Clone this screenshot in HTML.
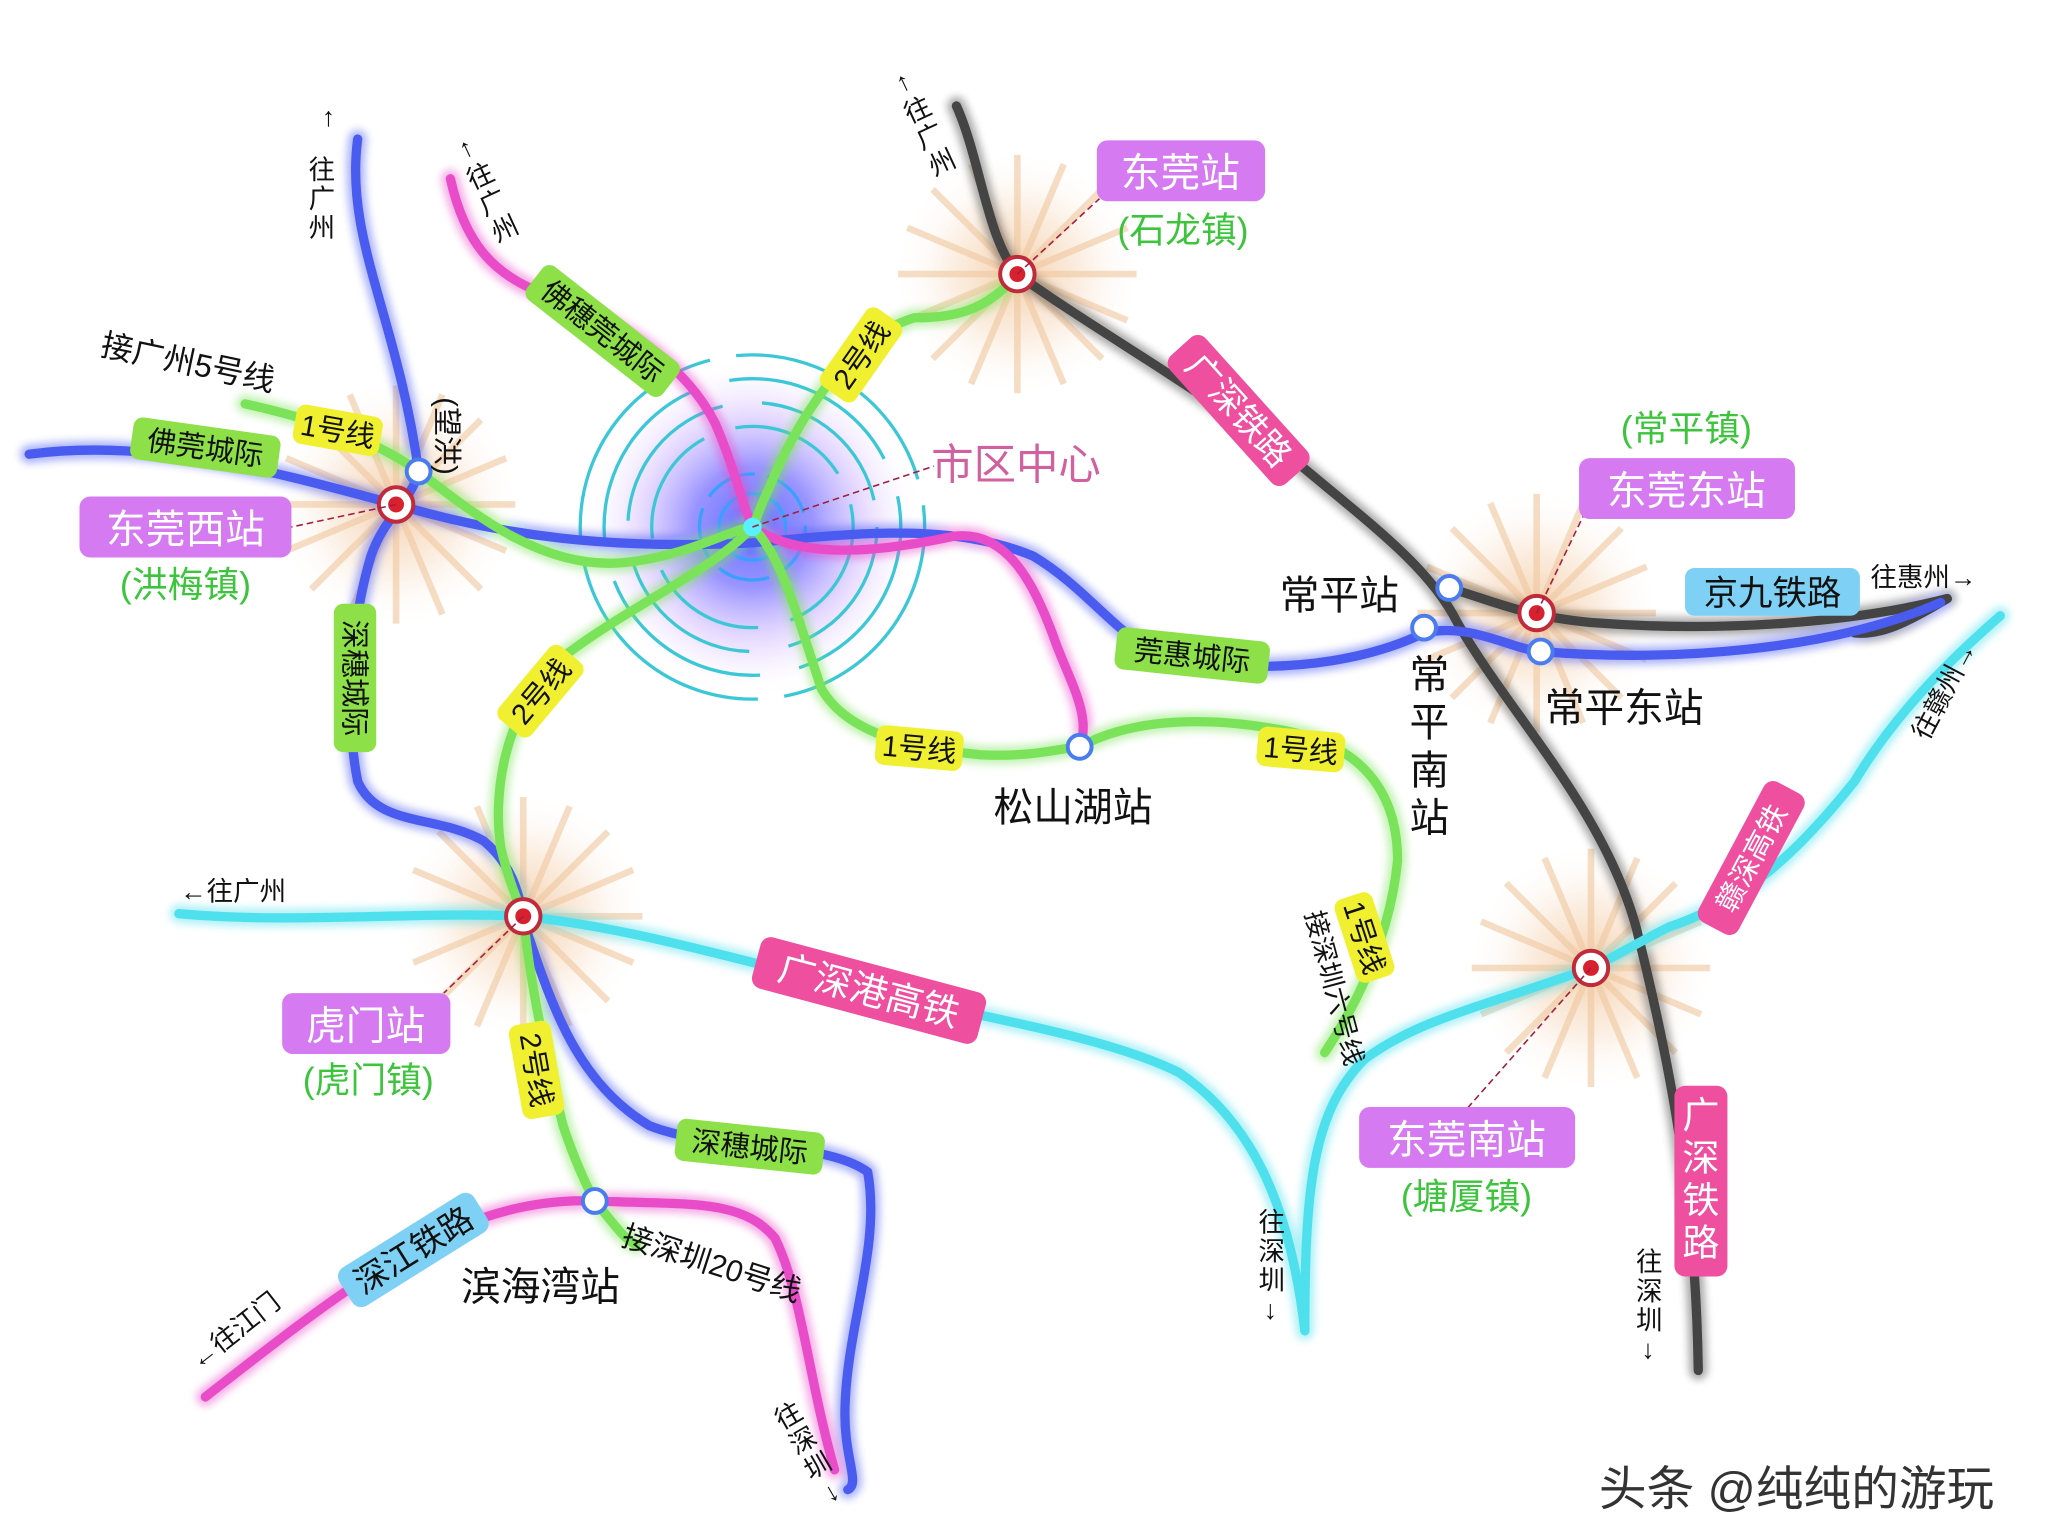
<!DOCTYPE html>
<html><head><meta charset="utf-8"><style>
html,body{margin:0;padding:0;background:#fff;width:2048px;height:1536px;overflow:hidden}
svg{display:block}
text{font-family:"Liberation Sans","Noto Sans CJK SC",sans-serif}
</style></head><body>
<svg width="2048" height="1536" viewBox="0 0 1546 1160" preserveAspectRatio="none" xmlns="http://www.w3.org/2000/svg">
<defs>
<radialGradient id="burst" cx="50%" cy="50%" r="50%">
<stop offset="0" stop-color="#f3c9a0" stop-opacity="0.9"/>
<stop offset="0.5" stop-color="#f7dcc2" stop-opacity="0.5"/>
<stop offset="1" stop-color="#fff" stop-opacity="0"/>
</radialGradient>
<radialGradient id="core" cx="50%" cy="50%" r="50%">
<stop offset="0" stop-color="#3a4cff"/>
<stop offset="0.35" stop-color="#6a62ff" stop-opacity="0.85"/>
<stop offset="0.7" stop-color="#c9a8ff" stop-opacity="0.4"/>
<stop offset="1" stop-color="#fff" stop-opacity="0"/>
</radialGradient>
<filter id="glow" x="-10%" y="-10%" width="120%" height="120%"><feGaussianBlur stdDeviation="3"/></filter>
<g id="rays" stroke="#f0c8a0" stroke-width="5" opacity="0.6">
<path d="M0,-90V90M-90,0H90M-64,-64L64,64M-64,64L64,-64M-35,-83L35,83M35,-83L-35,83M-83,-35L83,35M-83,35L83,-35"/>
</g>
<path id="g1" d="M722,80 C740,120 745,180 768,207 C820,245 900,290 980,350 C1040,400 1080,430 1100,470 C1140,540 1210,610 1235,700 C1260,800 1280,900 1282,1035"/>
<path id="g2" d="M1094,444 C1130,455 1150,465 1200,470 C1300,478 1400,470 1470,452 C1440,470 1420,480 1400,478"/>
<path id="b1" d="M22,343 C120,330 220,360 299,381 C380,405 460,415 568,410 C650,402 720,395 780,420 C830,450 850,495 900,500 C980,510 1040,495 1075,478 C1110,470 1140,490 1163,492 C1260,500 1380,492 1465,455"/>
<path id="b2" d="M270,105 C260,180 300,240 316,356 C310,380 290,390 280,420 C265,470 260,540 270,590 C285,625 330,615 365,635 C395,660 392,690 400,710 C420,770 440,820 490,850 C540,870 620,860 655,885 C665,940 640,1000 638,1060 C636,1100 650,1120 640,1125"/>
<path id="m1" d="M340,135 C350,180 370,210 420,225 C480,250 520,280 540,320 C555,355 560,380 568,398 C600,420 650,420 720,405 C760,400 780,440 795,480 C805,510 825,540 815,564"/>
<path id="m2" d="M155,1055 C200,1020 250,980 300,950 C350,920 400,905 449,907 C520,910 560,905 585,935 C605,975 610,1040 630,1110"/>
<path id="e1" d="M768,207 C745,235 720,240 690,240 C640,255 600,320 580,370 C570,390 570,398 568,398 C540,430 470,460 420,500 C380,540 372,600 378,640 C385,670 395,690 395,692 C400,740 410,790 425,850 C435,880 445,900 449,907 C460,920 470,935 480,940"/>
<path id="e2" d="M185,305 C230,315 280,330 316,356 C360,390 410,430 470,425 C520,420 550,400 568,398 C590,420 600,460 620,520 C640,555 690,565 740,570 C780,572 800,565 815,564 C850,545 900,540 960,550 C1030,560 1055,600 1055,650 C1050,700 1030,750 1000,795"/>
<path id="c1" d="M135,690 C220,698 320,688 395,692 C470,700 540,720 620,740 C720,765 830,780 890,810 C950,850 975,920 985,1005"/>
<path id="c2" d="M1510,465 C1470,500 1430,540 1400,590 C1360,640 1320,680 1260,700 C1230,715 1215,725 1201,731 C1120,760 1070,770 1030,800 C990,840 985,900 985,1005"/>
</defs>
<rect width="1546" height="1160" fill="#fff"/>

<!-- bursts -->
<g>
<circle cx="768" cy="207" r="95" fill="url(#burst)"/><use href="#rays" transform="translate(768,207)"/>
<circle cx="299" cy="381" r="95" fill="url(#burst)"/><use href="#rays" transform="translate(299,381)"/>
<circle cx="395" cy="692" r="95" fill="url(#burst)"/><use href="#rays" transform="translate(395,692)"/>
<circle cx="1160" cy="463" r="95" fill="url(#burst)"/><use href="#rays" transform="translate(1160,463)"/>
<circle cx="1201" cy="731" r="95" fill="url(#burst)"/><use href="#rays" transform="translate(1201,731)"/>
</g>

<!-- center -->
<circle cx="568" cy="398" r="130" fill="url(#core)" opacity="0.8"/>
<g fill="none" stroke="#3cc7d6" stroke-width="2.5">
<circle cx="568" cy="398" r="130" stroke-dasharray="180 20"/>
<circle cx="568" cy="398" r="112" stroke-dasharray="140 30"/>
<circle cx="568" cy="398" r="94" stroke-dasharray="120 30"/>
<circle cx="568" cy="398" r="76" stroke-dasharray="90 25"/>
<circle cx="568" cy="398" r="40" stroke="#39a0ff" stroke-dasharray="40 10"/>
<circle cx="568" cy="398" r="25" stroke="#39a0ff"/>
</g>

<!-- lines: halos -->
<g fill="none" stroke-linecap="round" stroke-linejoin="round" stroke-width="14" filter="url(#glow)" opacity="0.45">
<use href="#g1" stroke="#444"/><use href="#g2" stroke="#444"/>
<use href="#b1" stroke="#4a5cf0"/><use href="#b2" stroke="#4a5cf0"/>
<use href="#m1" stroke="#e94cc8"/><use href="#m2" stroke="#e94cc8"/>
<use href="#e1" stroke="#7be35a"/><use href="#e2" stroke="#7be35a"/>
<use href="#c1" stroke="#4fe0ee"/><use href="#c2" stroke="#4fe0ee"/>
</g>
<g fill="none" stroke-linecap="round" stroke-linejoin="round" stroke-width="7">
<use href="#g1" stroke="#444"/><use href="#g2" stroke="#444"/>
<use href="#b1" stroke="#4a5cf0"/><use href="#b2" stroke="#4a5cf0"/>
<use href="#m1" stroke="#e94cc8"/><use href="#m2" stroke="#e94cc8"/>
<use href="#e1" stroke="#7be35a"/><use href="#e2" stroke="#7be35a"/>
<use href="#c1" stroke="#4fe0ee"/><use href="#c2" stroke="#4fe0ee"/>
</g>

<!-- station markers -->
<g>
<g fill="#fff" stroke="#c02a3a" stroke-width="3">
<circle cx="768" cy="207" r="13"/><circle cx="299" cy="381" r="13"/><circle cx="395" cy="692" r="13"/><circle cx="1160" cy="463" r="13"/><circle cx="1201" cy="731" r="13"/>
</g>
<g fill="#d8202e"><circle cx="768" cy="207" r="6"/><circle cx="299" cy="381" r="6"/><circle cx="395" cy="692" r="6"/><circle cx="1160" cy="463" r="6"/><circle cx="1201" cy="731" r="6"/></g>
<g fill="#fff" stroke="#4a7cf0" stroke-width="3">
<circle cx="316" cy="356" r="9"/><circle cx="1094" cy="444" r="9"/><circle cx="1075" cy="474" r="9"/><circle cx="1163" cy="492" r="9"/><circle cx="815" cy="564" r="9"/><circle cx="449" cy="907" r="9"/>
</g>
<circle cx="568" cy="398" r="7" fill="#5af0ff"/>
</g>

<!-- dashed leaders -->
<g stroke="#a02040" stroke-width="1.2" stroke-dasharray="5 3" fill="none">
<path d="M768,207 L830,150"/><path d="M299,381 L220,398"/><path d="M395,692 L335,750"/><path d="M1160,463 L1195,390"/><path d="M1201,731 L1105,840"/><path d="M568,398 L705,352"/>
</g>

<!-- station boxes -->
<g font-size="30">
<rect x="828" y="106" width="127" height="46" rx="8" fill="#d57af0"/><text x="891" y="141" text-anchor="middle" fill="#fff">东莞站</text>
<text x="893" y="183" text-anchor="middle" fill="#3cc43c" font-size="27">(石龙镇)</text>
<rect x="60" y="375" width="160" height="46" rx="8" fill="#d57af0"/><text x="140" y="410" text-anchor="middle" fill="#fff">东莞西站</text>
<text x="140" y="451" text-anchor="middle" fill="#3cc43c" font-size="27">(洪梅镇)</text>
<rect x="213" y="750" width="127" height="46" rx="8" fill="#d57af0"/><text x="276" y="785" text-anchor="middle" fill="#fff">虎门站</text>
<text x="278" y="825" text-anchor="middle" fill="#3cc43c" font-size="27">(虎门镇)</text>
<rect x="1192" y="346" width="163" height="46" rx="8" fill="#d57af0"/><text x="1273" y="381" text-anchor="middle" fill="#fff">东莞东站</text>
<text x="1273" y="333" text-anchor="middle" fill="#3cc43c" font-size="27">(常平镇)</text>
<rect x="1026" y="836" width="163" height="46" rx="8" fill="#d57af0"/><text x="1107" y="871" text-anchor="middle" fill="#fff">东莞南站</text>
<text x="1107" y="913" text-anchor="middle" fill="#3cc43c" font-size="27">(塘厦镇)</text>
<text x="703" y="362" fill="#d0609e" font-size="32">市区中心</text>
</g>

<!-- station names -->
<g font-size="30" fill="#111">
<text x="966" y="460">常平站</text>
<text x="1166" y="545">常平东站</text>
<text x="750" y="620">松山湖站</text>
<text x="348" y="982">滨海湾站</text>
<text x="1079" y="520" text-anchor="middle">常</text>
<text x="1079" y="556" text-anchor="middle">平</text>
<text x="1079" y="592" text-anchor="middle">南</text>
<text x="1079" y="628" text-anchor="middle">站</text>
</g>

<!-- line labels -->
<g font-size="22" fill="#111">
<g transform="translate(935,310) rotate(48)"><rect x="-65" y="-18" width="130" height="36" rx="8" fill="#ef4f9f"/><text x="0" y="9" text-anchor="middle" fill="#fff" font-size="26">广深铁路</text></g>
<g transform="translate(455,250) rotate(38)"><rect x="-65" y="-16" width="130" height="32" rx="7" fill="#8de048"/><text x="0" y="8" text-anchor="middle">佛穗莞城际</text></g>
<g transform="translate(650,268) rotate(-55)"><rect x="-36" y="-16" width="72" height="32" rx="7" fill="#f0f030"/><text x="0" y="8" text-anchor="middle">2号线</text></g>
<g transform="translate(155,338) rotate(8)"><rect x="-56" y="-16" width="112" height="32" rx="7" fill="#8de048"/><text x="0" y="8" text-anchor="middle">佛莞城际</text></g>
<g transform="translate(255,325) rotate(10)"><rect x="-33" y="-15" width="66" height="30" rx="7" fill="#f0f030"/><text x="0" y="8" text-anchor="middle">1号线</text></g>
<g transform="translate(268,512) rotate(90)"><rect x="-56" y="-16" width="112" height="32" rx="7" fill="#8de048"/><text x="0" y="8" text-anchor="middle">深穗城际</text></g>
<g transform="translate(408,522) rotate(-50)"><rect x="-36" y="-16" width="72" height="32" rx="7" fill="#f0f030"/><text x="0" y="8" text-anchor="middle">2号线</text></g>
<g transform="translate(900,495) rotate(6)"><rect x="-58" y="-16" width="116" height="32" rx="7" fill="#8de048"/><text x="0" y="8" text-anchor="middle">莞惠城际</text></g>
<g transform="translate(694,565) rotate(5)"><rect x="-33" y="-15" width="66" height="30" rx="7" fill="#f0f030"/><text x="0" y="8" text-anchor="middle">1号线</text></g>
<g transform="translate(982,566) rotate(5)"><rect x="-33" y="-15" width="66" height="30" rx="7" fill="#f0f030"/><text x="0" y="8" text-anchor="middle">1号线</text></g>
<g transform="translate(1030,708) rotate(72)"><rect x="-33" y="-15" width="66" height="30" rx="7" fill="#f0f030"/><text x="0" y="8" text-anchor="middle">1号线</text></g>
<g transform="translate(1338,447)"><rect x="-66" y="-18" width="132" height="36" rx="7" fill="#7fd0f5"/><text x="0" y="10" text-anchor="middle" font-size="26">京九铁路</text></g>
<g transform="translate(1322,648) rotate(-62)"><rect x="-60" y="-17" width="120" height="34" rx="8" fill="#ef4f9f"/><text x="0" y="8" text-anchor="middle" fill="#fff">赣深高铁</text></g>
<g transform="translate(656,748) rotate(15)"><rect x="-88" y="-20" width="176" height="40" rx="8" fill="#ef4f9f"/><text x="0" y="10" text-anchor="middle" fill="#fff" font-size="28">广深港高铁</text></g>
<g transform="translate(405,808) rotate(80)"><rect x="-36" y="-16" width="72" height="32" rx="7" fill="#f0f030"/><text x="0" y="8" text-anchor="middle">2号线</text></g>
<g transform="translate(566,866) rotate(6)"><rect x="-56" y="-16" width="112" height="32" rx="7" fill="#8de048"/><text x="0" y="8" text-anchor="middle">深穗城际</text></g>
<g transform="translate(312,944) rotate(-32)"><rect x="-60" y="-17" width="120" height="34" rx="8" fill="#7fd0f5"/><text x="0" y="9" text-anchor="middle" font-size="25">深江铁路</text></g>
<g transform="translate(1284,892) rotate(90)"><rect x="-72" y="-20" width="144" height="40" rx="8" fill="#ef4f9f"/><g transform="rotate(-90)" fill="#fff" font-size="28" text-anchor="middle"><text x="0" y="-40">广</text><text x="0" y="-8">深</text><text x="0" y="24">铁</text><text x="0" y="56">路</text></g></g>
</g>

<!-- small direction text -->
<g font-size="20" fill="#111">
<text x="75" y="268" transform="rotate(12 75 268)" font-size="24">接广州5号线</text>
<text x="136" y="680">←往广州</text>
<text x="1412" y="443">往惠州→</text>
<text transform="translate(1455,560) rotate(-62)">往赣州→</text>
<text transform="translate(468,940) rotate(18)" font-size="23">接深圳20号线</text>
<text transform="translate(150,1035) rotate(-38)">←往江门</text>
<text transform="translate(330,300) rotate(90)" font-size="22">(望洪)</text>
<g transform="translate(243,95)"><text x="0" y="0">↑</text><text x="-10" y="40">往</text><text x="-10" y="62">广</text><text x="-10" y="84">州</text></g>
<g transform="translate(350,120) rotate(-25)"><text x="0" y="0">↑</text><text x="-4" y="24">往</text><text x="-4" y="46">广</text><text x="-4" y="68">州</text></g>
<g transform="translate(680,70) rotate(-25)"><text x="0" y="0">↑</text><text x="-4" y="24">往</text><text x="-4" y="46">广</text><text x="-4" y="68">州</text></g>
<g transform="translate(950,930)"><text x="0" y="0">往</text><text x="0" y="22">深</text><text x="0" y="44">圳</text><text x="4" y="66">↓</text></g>
<g transform="translate(1235,960)"><text x="0" y="0">往</text><text x="0" y="22">深</text><text x="0" y="44">圳</text><text x="4" y="66">↓</text></g>
<g transform="translate(590,1080) rotate(-30)"><text x="0" y="0">往</text><text x="0" y="22">深</text><text x="0" y="44">圳</text><text x="4" y="66">↓</text></g>
<text transform="translate(985,690) rotate(75)">接深圳六号线</text>
</g>

<text x="1207" y="1137" font-size="36" fill="#333">头条 @纯纯的游玩</text>
</svg>
</body></html>
